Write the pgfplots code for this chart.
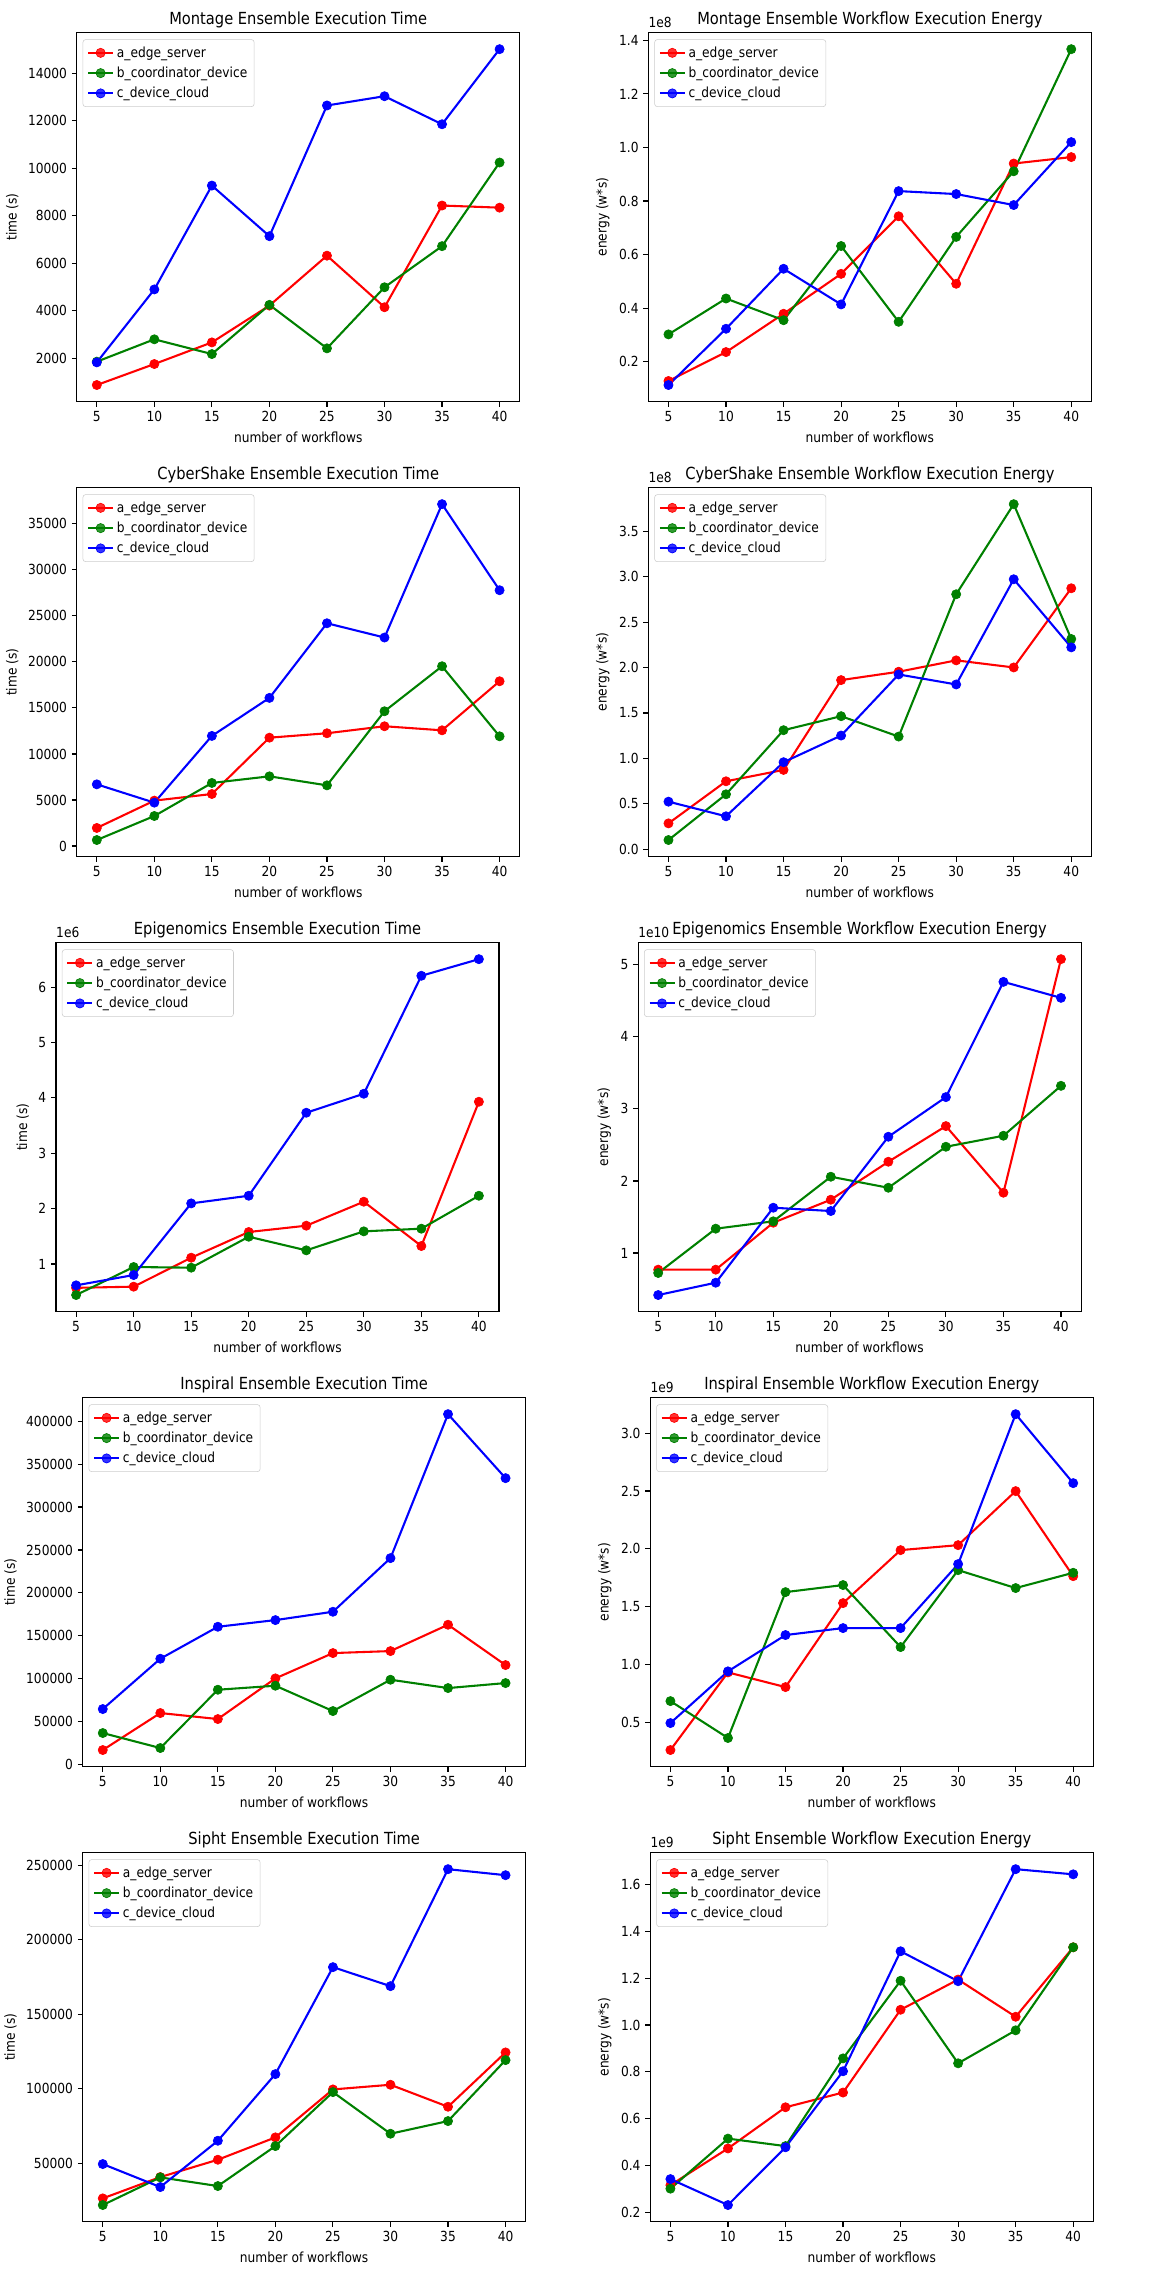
\documentclass[border=0pt]{standalone}
\usepackage{pgfplots}
\pgfplotsset{compat=1.18}
\usepackage{fontspec}
\setmainfont[FakeStretch=0.88]{DejaVu Sans}
\definecolor{mplred}{RGB}{255,0,0}
\definecolor{mplgreen}{RGB}{0,128,0}
\definecolor{mplblue}{RGB}{0,0,255}
\pgfplotsset{
  ser/.style={color=#1, line width=1.5pt, mark=*, mark size=3.3pt, mark options={solid, fill=#1, line width=0.5pt}},
  wf/.style={
    scale only axis, width=319pt, height=266pt, anchor=north west,
    xmin=3.25, xmax=41.75, xtick={5,10,...,40},
    enlarge y limits=0.05,
    tick align=outside, major tick length=3.5pt,
    tick style={line width=0.8pt, black},
    axis line style={line width=0.8pt},
    xtick pos=bottom, ytick pos=left,
    ticklabel style={font=\fontsize{10}{12}\selectfont},
    label style={font=\fontsize{10}{12}\selectfont},
    every axis title/.style={at={(0.5,1)}, anchor=base, yshift=6pt, font=\fontsize{12}{14}\selectfont},
    xlabel={number of workflows},
    scaled y ticks=false,
    /pgf/number format/fixed,
    /pgf/number format/1000 sep={},
    /pgf/number format/assume math mode=true,
    legend cell align=left,
    legend style={at={(0,1)}, anchor=north west, xshift=4.3pt, yshift=-5pt,
      draw=black!20, rounded corners=2pt, fill=white, fill opacity=0.8, text opacity=1, draw opacity=1,
      font=\fontsize{10}{12}\selectfont, row sep=1.5pt, inner sep=3pt},
    legend image code/.code={\draw[mark repeat=2,mark phase=2] plot coordinates {(0pt,0pt) (9pt,0pt) (18pt,0pt)};},
  },
  onedec/.style={yticklabel style={/pgf/number format/.cd, fixed, fixed zerofill, precision=1}},
  mult/.style={after end axis/.code={\node[anchor=south west, inner sep=0pt, yshift=3pt, font=\fontsize{10}{12}\selectfont] at (rel axis cs:0,1) {#1};}},
}
\newcommand{\leg}{\legend{a\_edge\_server, b\_coordinator\_device, c\_device\_cloud}}
\begin{document}
\begin{tikzpicture}
\useasboundingbox (0,0) rectangle (838.08pt,-1638pt);

% Row 1
\begin{axis}[wf, at={(55.2pt,-23.3pt)}, title={Montage Ensemble Execution Time}, ylabel={time (s)}, ytick={2000,4000,...,14000}]
\addplot[ser=mplred] coordinates {(5,877)(10,1760)(15,2670)(20,4220)(25,6320)(30,4150)(35,8430)(40,8340)};
\addplot[ser=mplgreen] coordinates {(5,1860)(10,2800)(15,2180)(20,4250)(25,2420)(30,4990)(35,6720)(40,10240)};
\addplot[ser=mplblue] coordinates {(5,1830)(10,4900)(15,9270)(20,7140)(25,12640)(30,13030)(35,11850)(40,15010)};
\leg
\end{axis}
\begin{axis}[wf, onedec, mult={1e8}, at={(466.8pt,-23.3pt)}, title={Montage Ensemble Workflow Execution Energy}, ylabel={energy (w*s)}, ytick={0.2,0.4,...,1.41}]
\addplot[ser=mplred] coordinates {(5,0.128)(10,0.236)(15,0.379)(20,0.528)(25,0.743)(30,0.491)(35,0.940)(40,0.964)};
\addplot[ser=mplgreen] coordinates {(5,0.302)(10,0.436)(15,0.355)(20,0.632)(25,0.349)(30,0.666)(35,0.911)(40,1.367)};
\addplot[ser=mplblue] coordinates {(5,0.113)(10,0.323)(15,0.547)(20,0.414)(25,0.837)(30,0.826)(35,0.785)(40,1.020)};
\leg
\end{axis}

% Row 2
\begin{axis}[wf, at={(55.2pt,-350.9pt)}, title={CyberShake Ensemble Execution Time}, ylabel={time (s)}, ytick={0,5000,...,35000}]
\addplot[ser=mplred] coordinates {(5,1960)(10,4930)(15,5650)(20,11770)(25,12250)(30,13010)(35,12570)(40,17900)};
\addplot[ser=mplgreen] coordinates {(5,650)(10,3260)(15,6850)(20,7570)(25,6590)(30,14640)(35,19530)(40,11920)};
\addplot[ser=mplblue] coordinates {(5,6700)(10,4710)(15,11960)(20,16090)(25,24200)(30,22650)(35,37140)(40,27790)};
\leg
\end{axis}
\begin{axis}[wf, onedec, mult={1e8}, at={(466.8pt,-350.9pt)}, title={CyberShake Ensemble Workflow Execution Energy}, ylabel={energy (w*s)}, ytick={0,0.5,...,3.51}]
\addplot[ser=mplred] coordinates {(5,0.286)(10,0.749)(15,0.874)(20,1.862)(25,1.954)(30,2.079)(35,2.001)(40,2.872)};
\addplot[ser=mplgreen] coordinates {(5,0.103)(10,0.606)(15,1.311)(20,1.465)(25,1.241)(30,2.806)(35,3.797)(40,2.314)};
\addplot[ser=mplblue] coordinates {(5,0.525)(10,0.364)(15,0.959)(20,1.252)(25,1.924)(30,1.814)(35,2.971)(40,2.222)};
\leg
\end{axis}

% Row 3
\begin{axis}[wf, mult={1e6}, at={(40.3pt,-678.5pt)}, title={Epigenomics Ensemble Execution Time}, ylabel={time (s)}, ytick={1,2,...,6}]
\addplot[ser=mplred] coordinates {(5,0.57)(10,0.591)(15,1.114)(20,1.578)(25,1.692)(30,2.125)(35,1.325)(40,3.930)};
\addplot[ser=mplgreen] coordinates {(5,0.44)(10,0.946)(15,0.934)(20,1.493)(25,1.247)(30,1.590)(35,1.638)(40,2.233)};
\addplot[ser=mplblue] coordinates {(5,0.615)(10,0.801)(15,2.095)(20,2.233)(25,3.732)(30,4.075)(35,6.205)(40,6.505)};
\leg
\end{axis}
\begin{axis}[wf, mult={1e10}, at={(459.4pt,-678.5pt)}, title={Epigenomics Ensemble Workflow Execution Energy}, ylabel={energy (w*s)}, ytick={1,2,...,5}]
\addplot[ser=mplred] coordinates {(5,0.769)(10,0.769)(15,1.421)(20,1.740)(25,2.267)(30,2.762)(35,1.837)(40,5.079)};
\addplot[ser=mplgreen] coordinates {(5,0.723)(10,1.338)(15,1.440)(20,2.059)(25,1.906)(30,2.475)(35,2.628)(40,3.321)};
\addplot[ser=mplblue] coordinates {(5,0.417)(10,0.588)(15,1.629)(20,1.583)(25,2.614)(30,3.164)(35,4.764)(40,4.542)};
\leg
\end{axis}

% Row 4
\begin{axis}[wf, at={(59.5pt,-1006.1pt)}, title={Inspiral Ensemble Execution Time}, ylabel={time (s)}, ytick={0,50000,...,400000}]
\addplot[ser=mplred] coordinates {(5,17070)(10,60140)(15,53150)(20,100490)(25,129970)(30,132300)(35,162950)(40,116000)};
\addplot[ser=mplgreen] coordinates {(5,36860)(10,19400)(15,87290)(20,91950)(25,62460)(30,98930)(35,89230)(40,95050)};
\addplot[ser=mplblue] coordinates {(5,64790)(10,123380)(15,160620)(20,168380)(25,178080)(30,240540)(35,408150)(40,333660)};
\leg
\end{axis}
\begin{axis}[wf, onedec, mult={1e9}, at={(468.2pt,-1006.1pt)}, title={Inspiral Ensemble Workflow Execution Energy}, ylabel={energy (w*s)}, ytick={0.5,1.0,...,3.01}]
\addplot[ser=mplred] coordinates {(5,0.261)(10,0.932)(15,0.805)(20,1.531)(25,1.989)(30,2.032)(35,2.499)(40,1.764)};
\addplot[ser=mplgreen] coordinates {(5,0.684)(10,0.365)(15,1.626)(20,1.687)(25,1.151)(30,1.816)(35,1.661)(40,1.793)};
\addplot[ser=mplblue] coordinates {(5,0.494)(10,0.941)(15,1.255)(20,1.315)(25,1.315)(30,1.868)(35,3.164)(40,2.568)};
\leg
\end{axis}

% Row 5
\begin{axis}[wf, at={(59.5pt,-1333.7pt)}, title={Sipht Ensemble Execution Time}, ylabel={time (s)}, ytick={50000,100000,...,250000}]
\addplot[ser=mplred] coordinates {(5,26260)(10,40590)(15,52240)(20,67250)(25,99500)(30,102630)(35,87850)(40,124360)};
\addplot[ser=mplgreen] coordinates {(5,21780)(10,40370)(15,34550)(20,61420)(25,97700)(30,69710)(35,78220)(40,119200)};
\addplot[ser=mplblue] coordinates {(5,49330)(10,33870)(15,65010)(20,109800)(25,181690)(30,168920)(35,247540)(40,243500)};
\leg
\end{axis}
\begin{axis}[wf, onedec, mult={1e9}, at={(468.2pt,-1333.7pt)}, title={Sipht Ensemble Workflow Execution Energy}, ylabel={energy (w*s)}, ytick={0.2,0.4,...,1.61}]
\addplot[ser=mplred] coordinates {(5,0.315)(10,0.472)(15,0.648)(20,0.711)(25,1.065)(30,1.194)(35,1.035)(40,1.332)};
\addplot[ser=mplgreen] coordinates {(5,0.300)(10,0.514)(15,0.482)(20,0.857)(25,1.189)(30,0.836)(35,0.977)(40,1.332)};
\addplot[ser=mplblue] coordinates {(5,0.341)(10,0.230)(15,0.477)(20,0.802)(25,1.315)(30,1.187)(35,1.666)(40,1.644)};
\leg
\end{axis}
\end{tikzpicture}
\end{document}
